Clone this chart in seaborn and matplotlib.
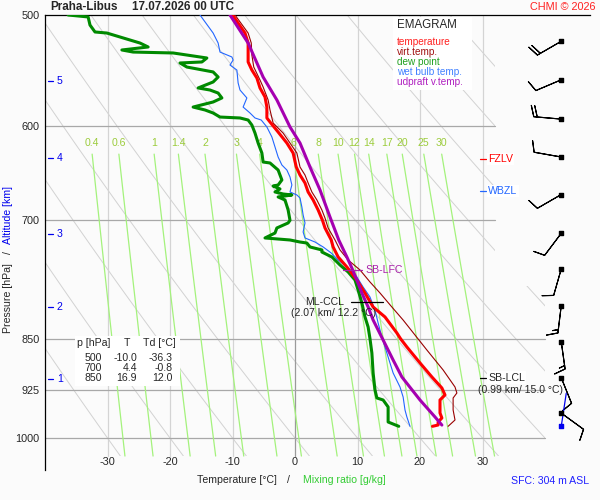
import numpy as np
import matplotlib
matplotlib.use("Agg")
import matplotlib.pyplot as plt
import matplotlib.transforms as mtransforms
from matplotlib.patches import Polygon, Rectangle
from matplotlib.ticker import NullLocator
import seaborn as sns

# sounding Praha-Libus, values (p in hPa, temperatures in degC)
temp_p = [500, 515, 523.5, 540, 547.2, 554.4, 563.5, 571.9, 581.4, 591.9, 595.8, 605.7,
          616.7, 626.9, 641.4, 649.9, 658.4, 668.2, 677, 688.2, 700, 708.8, 722.9, 731.2,
          743.3, 755.6, 771.9, 788.5, 806.8, 820.1, 841.9, 850, 861.4, 884.3, 904.8, 921.3,
          931.9, 939.6, 959.8, 967.7, 974.1, 978.9, 981]
temp_t = [-10.0, -8.0, -7.5, -7.5, -6.9, -6.1, -5.6, -4.8, -4.5, -4.5, -4.0, -2.7,
          -1.3, -0.3, 0.2, 0.8, 1.6, 2.1, 2.9, 3.7, 4.4, 4.8, 5.8, 6.1,
          6.9, 8.3, 9.9, 11.2, 12.5, 14.4, 16.3, 16.9, 17.9, 20.0, 21.9, 23.5,
          24.0, 23.2, 23.2, 23.5, 22.9, 22.9, 22.0]

virt_p = [500, 515, 523.5, 533.9, 544.5, 556.2, 562.6, 574.7, 584.2, 596.8, 606.7, 616.7,
          626.9, 641.4, 649.9, 658.4, 668.2, 677, 688.2, 697.3, 708.8, 722.9, 734.8, 747,
          759.3, 774.4, 788.5, 806.8, 824.2, 844.7, 865.7, 894.5, 919.8, 928.9, 936.5, 955.1,
          970.9, 981]
virt_t = [-9.6, -7.5, -7.0, -6.9, -6.6, -5.6, -5.1, -4.3, -4.0, -3.5, -1.9, -0.8,
          0.3, 0.8, 1.6, 2.1, 2.7, 3.5, 4.3, 4.8, 5.3, 6.4, 7.2, 8.5,
          10.4, 12.0, 13.6, 15.5, 17.3, 19.2, 21.1, 23.7, 25.6, 25.9, 25.3, 25.3,
          25.6, 24.5]

dew_p = [500, 501.6, 508.3, 514.1, 515, 523.5, 526.9, 529.5, 531.3, 532.1, 536.5, 540,
         540.9, 544.5, 548.9, 553.5, 558, 563.5, 565.4, 568.2, 572.8, 576.6, 581.4, 584.2,
         587.1, 591, 591.9, 593.9, 598.8, 606.7, 616.7, 626.9, 636.2, 637.2, 644.6, 655.2,
         660.6, 661.7, 664.9, 668.2, 670.4, 671.5, 673.7, 677, 688.2, 700, 703, 708.8,
         714.7, 720.5, 722.9, 725.3, 726.5, 731.2, 734.8, 737.3, 743.3, 747, 753.1, 761.8,
         771.9, 784.6, 801.5, 820.1, 833.7, 850, 870, 898.9, 924.3, 936.5, 939.6, 950.4,
         974.1, 981]
dew_t = [-36.3, -33.1, -32.8, -32.0, -30.1, -24.8, -23.5, -27.7, -25.9, -19.5, -14.1, -14.9,
         -18.4, -17.3, -13.1, -12.3, -13.1, -15.5, -13.6, -12.3, -11.7, -13.1, -16.3, -14.4,
         -13.1, -12.0, -8.8, -7.5, -6.9, -6.4, -5.9, -5.3, -5.1, -4.0, -2.7, -2.1,
         -2.7, -3.5, -2.4, -3.2, -1.9, -0.5, -2.7, -1.6, -1.1, -0.8, -1.1, -2.9,
         -3.2, -4.8, -0.8, 0.8, 1.9, 2.4, 4.3, 4.3, 5.9, 6.4, 7.2, 8.5,
         9.6, 10.1, 10.7, 11.2, 11.7, 12.0, 12.3, 12.5, 12.8, 13.1, 14.1, 14.9,
         14.9, 16.6]

wetb_p = [500, 515, 523.5, 531.3, 535.6, 538.3, 542.7, 547.2, 558.9, 565.4, 572.8, 581.4,
          587.1, 591.9, 593.9, 600.7, 610.6, 620.7, 631, 639.3, 644.6, 652, 660.6, 668.2,
          671.5, 674.8, 684.9, 693.9, 703, 713.5, 720.5, 725.3, 731.2, 738.5, 747, 756.9,
          768.1, 780.8, 793.7, 810.8, 828.2, 847.4, 870, 898.9, 919.8, 935, 955.1, 966.1,
          981]
wetb_t = [-15.2, -13.1, -12.3, -12.0, -10.1, -9.9, -10.4, -9.3, -9.1, -8.8, -7.7, -8.3,
          -7.2, -6.4, -5.4, -4.5, -3.7, -3.2, -2.7, -2.1, -1.3, -0.8, -0.5, -0.8,
          0.3, 0.8, 1.1, 1.3, 1.6, 1.3, 1.6, 3.2, 4.5, 5.8, 6.9, 8.5,
          9.9, 10.9, 12.0, 12.8, 13.3, 13.9, 14.7, 15.7, 16.8, 17.3, 17.6, 17.9,
          18.4]

updr_p = [500, 523.5, 553.5, 574.7, 600.7, 616.7, 641.4, 666, 696.2, 722.9, 743.3, 756.9,
          771.9, 788.5, 806.8, 824.2, 851.6, 880, 904.8, 939.6, 966.1, 979]
updr_t = [-10.4, -7.5, -5.1, -2.9, -0.8, 0.8, 2.4, 4.0, 5.6, 7.0, 8.3, 9.1,
          9.9, 10.7, 11.7, 12.5, 14.1, 15.7, 17.1, 20.0, 22.4, 23.5]

# levels
fzlv_p, wbzl_p, lfc_p, ccl_p, lcl_p = 633, 667, 759, 800, 906
alt_km = [1, 2, 3, 4, 5]
alt_p = [908, 807, 716, 632, 557]

# wind (knots)
wind_p = [522, 556, 593, 631, 671, 715, 758, 805, 854, 906, 960]
wind_dir = [240, 247, 275, 280, 240, 217, 196, 187, 172, 158, 126]
wind_spd = [20, 10, 20, 10, 10, 10, 10, 15, 15, 10, 10]
sfc_wind_p = 981

table_p = [500, 700, 850]
table_t = [-10.0, 4.4, 16.9]
table_td = [-36.3, -0.8, 12.0]

# background grid
isobars = [600, 700, 850, 925, 1000]
isotherms = [-30, -20, -10, 0, 10, 20, 30]
adiabat_t1000 = list(range(-30, 160, 10))
mix_ratios = [0.4, 0.6, 1, 1.4, 2, 3, 4, 6, 8, 10, 12, 14, 17, 20, 25, 30]

BG = '#fbfbfb'
sns.set_style("white")
plt.rcParams['font.family'] = ['Liberation Sans', 'DejaVu Sans']
plt.rcParams['font.size'] = 7.6

fig = plt.figure(figsize=(6, 5), dpi=100, facecolor=BG)
ax = fig.add_axes([45 / 600, 30 / 500, 545 / 600, 455 / 500], facecolor=BG)
ax.set_yscale('log')
ax.set_xlim(-40, 47.2)
ax.set_ylim(1053.8, 500)
ax.yaxis.set_minor_locator(NullLocator())
ax.set_yticks([500] + isobars)
ax.set_yticklabels([str(p) for p in [500] + isobars])
ax.set_xticks([])
ax.tick_params(axis='y', length=0, pad=4, labelsize=7.8)
for side in ['right', 'bottom']:
    ax.spines[side].set_visible(False)
for side in ['left', 'top']:
    ax.spines[side].set_color('black')
    ax.spines[side].set_linewidth(0.9)

clip = Polygon([(-40, 500), (32, 500), (32, 780), (40, 780), (40, 1030), (-40, 1030)],
               closed=True, transform=ax.transData, facecolor='none', edgecolor='none')

# dry adiabats
p_grid = np.geomspace(500, 1030, 80)
for t0 in adiabat_t1000:
    t = (t0 + 273.15) * (p_grid / 1000) ** 0.2857 - 273.15
    ln, = ax.plot(t, p_grid, color='#d2d2d2', lw=0.7, zorder=1)
    ln.set_clip_path(clip)

# isotherms / isobars
for t in isotherms:
    ax.plot([t, t], [500, 1030], color='#9a9a9a' if t == 0 else '#d4d4d4', lw=0.9, zorder=1)
for p in isobars:
    ax.plot([-40, 32 if p < 780 else 40], [p, p], color='#a8a8a8', lw=0.9, zorder=1)

# mixing ratio lines
p_mr = np.geomspace(628, 1030, 40)
for w in mix_ratios:
    e = w * p_mr / (622 + w)
    td = 243.5 * np.log(e / 6.112) / (17.67 - np.log(e / 6.112))
    ax.plot(td, p_mr, color='#a4f27c', lw=0.9, zorder=1)
    ax.text(td[0], 617, f'{w:g}', color='#9ccc3c', ha='center', va='center', fontsize=7.6)

# profiles
sns.lineplot(x=wetb_t, y=wetb_p, sort=False, estimator=None, color='#2266ff', lw=0.8, ax=ax, zorder=3)
sns.lineplot(x=dew_t, y=dew_p, sort=False, estimator=None, color='#008a00', lw=2.2, ax=ax, zorder=3)
sns.lineplot(x=virt_t, y=virt_p, sort=False, estimator=None, color='#990000', lw=0.8, ax=ax, zorder=3)
sns.lineplot(x=temp_t, y=temp_p, sort=False, estimator=None, color='#ff0000', lw=2.2, ax=ax, zorder=4)
sns.lineplot(x=updr_t, y=updr_p, sort=False, estimator=None, color='#a500b0', lw=2.2, ax=ax, zorder=5)

# altitude ticks
trans = mtransforms.blended_transform_factory(ax.transAxes, ax.transData)
for km, p in zip(alt_km, alt_p):
    ax.plot([0.0055, 0.015], [p, p], color='#0000ee', lw=0.9, transform=trans, clip_on=False)
    ax.text(0.022, p, str(km), color='#0000ee', va='center', ha='left', transform=trans)

# temperature labels
transx = mtransforms.blended_transform_factory(ax.transData, ax.transAxes)
for t in isotherms:
    ax.text(t, 0.0176, str(t), ha='center', va='center', transform=transx, fontsize=7.8)

# level annotations
box = dict(facecolor='white', edgecolor='none', pad=1.0)
ax.plot([29.6, 30.6], [fzlv_p, fzlv_p], color='#ff0000', lw=0.9, zorder=6)
ax.text(30.9, fzlv_p, 'FZLV', color='#ff0000', va='center', ha='left', bbox=box, zorder=6)
ax.plot([29.6, 30.6], [wbzl_p, wbzl_p], color='#2266ff', lw=0.9, zorder=6)
ax.text(30.9, wbzl_p, 'WBZL', color='#2266ff', va='center', ha='left', bbox=box, zorder=6)
ax.plot([7.7, 10.7], [lfc_p, lfc_p], color='#aa22aa', lw=0.9, zorder=6)
ax.text(11.2, lfc_p, 'SB-LFC', color='#aa22aa', va='center', ha='left', zorder=6)
ax.plot([9.0, 14.1], [ccl_p, ccl_p], color='black', lw=0.9, zorder=6)
ax.text(4.8, ccl_p, 'ML-CCL', va='center', ha='center', zorder=6)
ax.text(6.1, 814.7, '(2.07 km/ 12.2 °C)', va='center', ha='center', zorder=6)
ax.plot([29.6, 30.6], [lcl_p, lcl_p], color='black', lw=0.9, zorder=6)
ax.text(30.9, lcl_p, 'SB-LCL', va='center', ha='left', bbox=box, zorder=6)
ax.text(29.3, 924.3, '(0.99 km/ 15.0 °C)', va='center', ha='left', zorder=6)

# wind barbs
barb_t = 42.6
wd = np.deg2rad(wind_dir)
u = -np.array(wind_spd) * np.sin(wd)
v = -np.array(wind_spd) * np.cos(wd)
ax.barbs([barb_t] * len(wind_p), wind_p, u, v, length=6.3, linewidth=0.8,
         color='black', zorder=6, clip_on=False)
ax.scatter([barb_t] * len(wind_p), wind_p, marker='s', s=7, color='black', zorder=7, clip_on=False)
ax.annotate('', xy=(barb_t, sfc_wind_p), xytext=(5, 33), textcoords='offset pixels',
            arrowprops=dict(arrowstyle='-', color='#0000ee', lw=0.9, shrinkA=0, shrinkB=0), zorder=6)
ax.scatter([barb_t], [sfc_wind_p], marker='s', s=7, color='#0000ee', zorder=7, clip_on=False)

# legend box
ax.add_patch(Rectangle((393 / 600, 1 - 90 / 500), 79 / 600, 73 / 500, transform=fig.transFigure,
                       facecolor='white', edgecolor='none', zorder=8))
fig.text(397 / 600, 1 - 25 / 500, 'EMAGRAM', fontsize=8.3, va='center', zorder=9)
legend = [('temperature', '#ff2020'), ('virt.temp.', '#a01010'), ('dew point', '#20a020'),
          ('wet bulb temp.', '#4080ff'), ('udpraft v.temp.', '#b020c0')]
for i, (name, col) in enumerate(legend):
    fig.text(397 / 600, 1 - (42 + 10 * i) / 500, name, color=col, fontsize=7.2, va='center', zorder=9)

# table
ax.add_patch(Rectangle((75 / 600, 1 - 386 / 500), 105 / 600, 50 / 500, transform=fig.transFigure,
                       facecolor='white', edgecolor='none', zorder=8))
fig.text(77 / 600, 1 - 343 / 500, 'p [hPa]', va='center', zorder=9)
fig.text(127 / 600, 1 - 343 / 500, 'T', va='center', ha='center', zorder=9)
fig.text(143 / 600, 1 - 343 / 500, 'Td [°C]', va='center', zorder=9)
for i, (p, t, td) in enumerate(zip(table_p, table_t, table_td)):
    y = 1 - (358 + 10 * i) / 500
    fig.text(102 / 600, y, str(p), ha='right', va='center', zorder=9)
    fig.text(137 / 600, y, f'{t:.1f}', ha='right', va='center', zorder=9)
    fig.text(173 / 600, y, f'{td:.1f}', ha='right', va='center', zorder=9)

# titles and axis labels
fig.text(50 / 600, 1 - 7 / 500, 'Praha-Libus', fontweight='bold', fontsize=8.4, va='center')
fig.text(132 / 600, 1 - 7 / 500, '17.07.2026 00 UTC', fontweight='bold', fontsize=8.4, va='center')
fig.text(596 / 600, 1 - 7 / 500, 'CHMI © 2026', color='#ff2020', fontsize=7.8, ha='right', va='center')
fig.text(8 / 600, 1 - 298 / 500, 'Pressure [hPa]', rotation=90, ha='center', va='center')
fig.text(8 / 600, 1 - 253 / 500, '/', rotation=90, ha='center', va='center')
fig.text(8 / 600, 1 - 215 / 500, 'Altitude [km]', rotation=90, ha='center', va='center', color='#0000ee')
fig.text(197 / 600, 1 - 480 / 500, 'Temperature [°C]', va='center')
fig.text(288 / 600, 1 - 480 / 500, '/', va='center', ha='center')
fig.text(303 / 600, 1 - 480 / 500, 'Mixing ratio [g/kg]', va='center', color='#33cc33')
fig.text(589 / 600, 1 - 481 / 500, 'SFC: 304 m ASL', va='center', ha='right', color='#2020ff')

fig.savefig('out.png', dpi=100, facecolor=BG)
